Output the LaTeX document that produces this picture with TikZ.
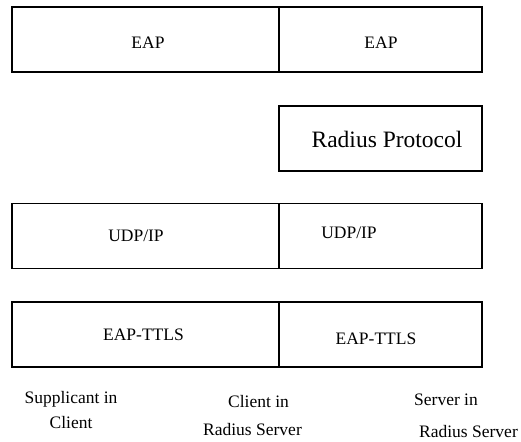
\documentclass[tikz,border=0pt]{standalone}
\usepackage{fontspec}
\setmainfont{Liberation Serif}
\usetikzlibrary{positioning}

\begin{document}
\begin{tikzpicture}[x=1pt,y=-1pt,
    layer/.style={draw,line width=1.8pt,rectangle,inner sep=0pt,minimum height=65pt},
    lbl/.style={inner sep=0pt,anchor=base,font=\fontsize{17.5}{20}\selectfont},
    biglbl/.style={inner sep=0pt,anchor=base,font=\fontsize{23.5}{26}\selectfont}]
  \useasboundingbox (0,0) rectangle (521,441);
  % protocol stack boxes
  \foreach \N/\Y in {eap/39.5,udp/236,ttls/334.5}
  {\node[layer,minimum width=267pt] (\N l) at (145.5,\Y) {};
   \node[layer,minimum width=203pt] (\N r) at (380.5,\Y) {};}
  \node[layer,minimum width=203pt] (radius) at (380.5,138.5) {};
  % box texts
  \node[lbl] (eapltext) at (148,48.3) {EAP};
  \node[lbl] (eaprtext) at (381,48.3) {EAP};
  \node[biglbl] (radiustext) at (387,147.3) {Radius Protocol};
  \node[lbl] (udpltext) at (136,241.7) {UDP/IP};
  \node[lbl] (udprtext) at (349,238.3) {UDP/IP};
  \node[lbl] (ttlsltext) at (143.5,340) {EAP-TTLS};
  \node[lbl] (ttlsrtext) at (376,344) {EAP-TTLS};
  % entity captions
  \node[lbl] (supp) at (71,403.3) {Supplicant in};
  \node[lbl] (suppb) at (71,428.3) {Client};
  \node[lbl] (client) at (258.5,407) {Client in};
  \node[lbl] (clientb) at (252.5,435.5) {Radius Server};
  \node[lbl] (server) at (446,405) {Server in};
  \node[lbl] (serverb) at (468.5,437) {Radius Server};
\end{tikzpicture}
\end{document}
